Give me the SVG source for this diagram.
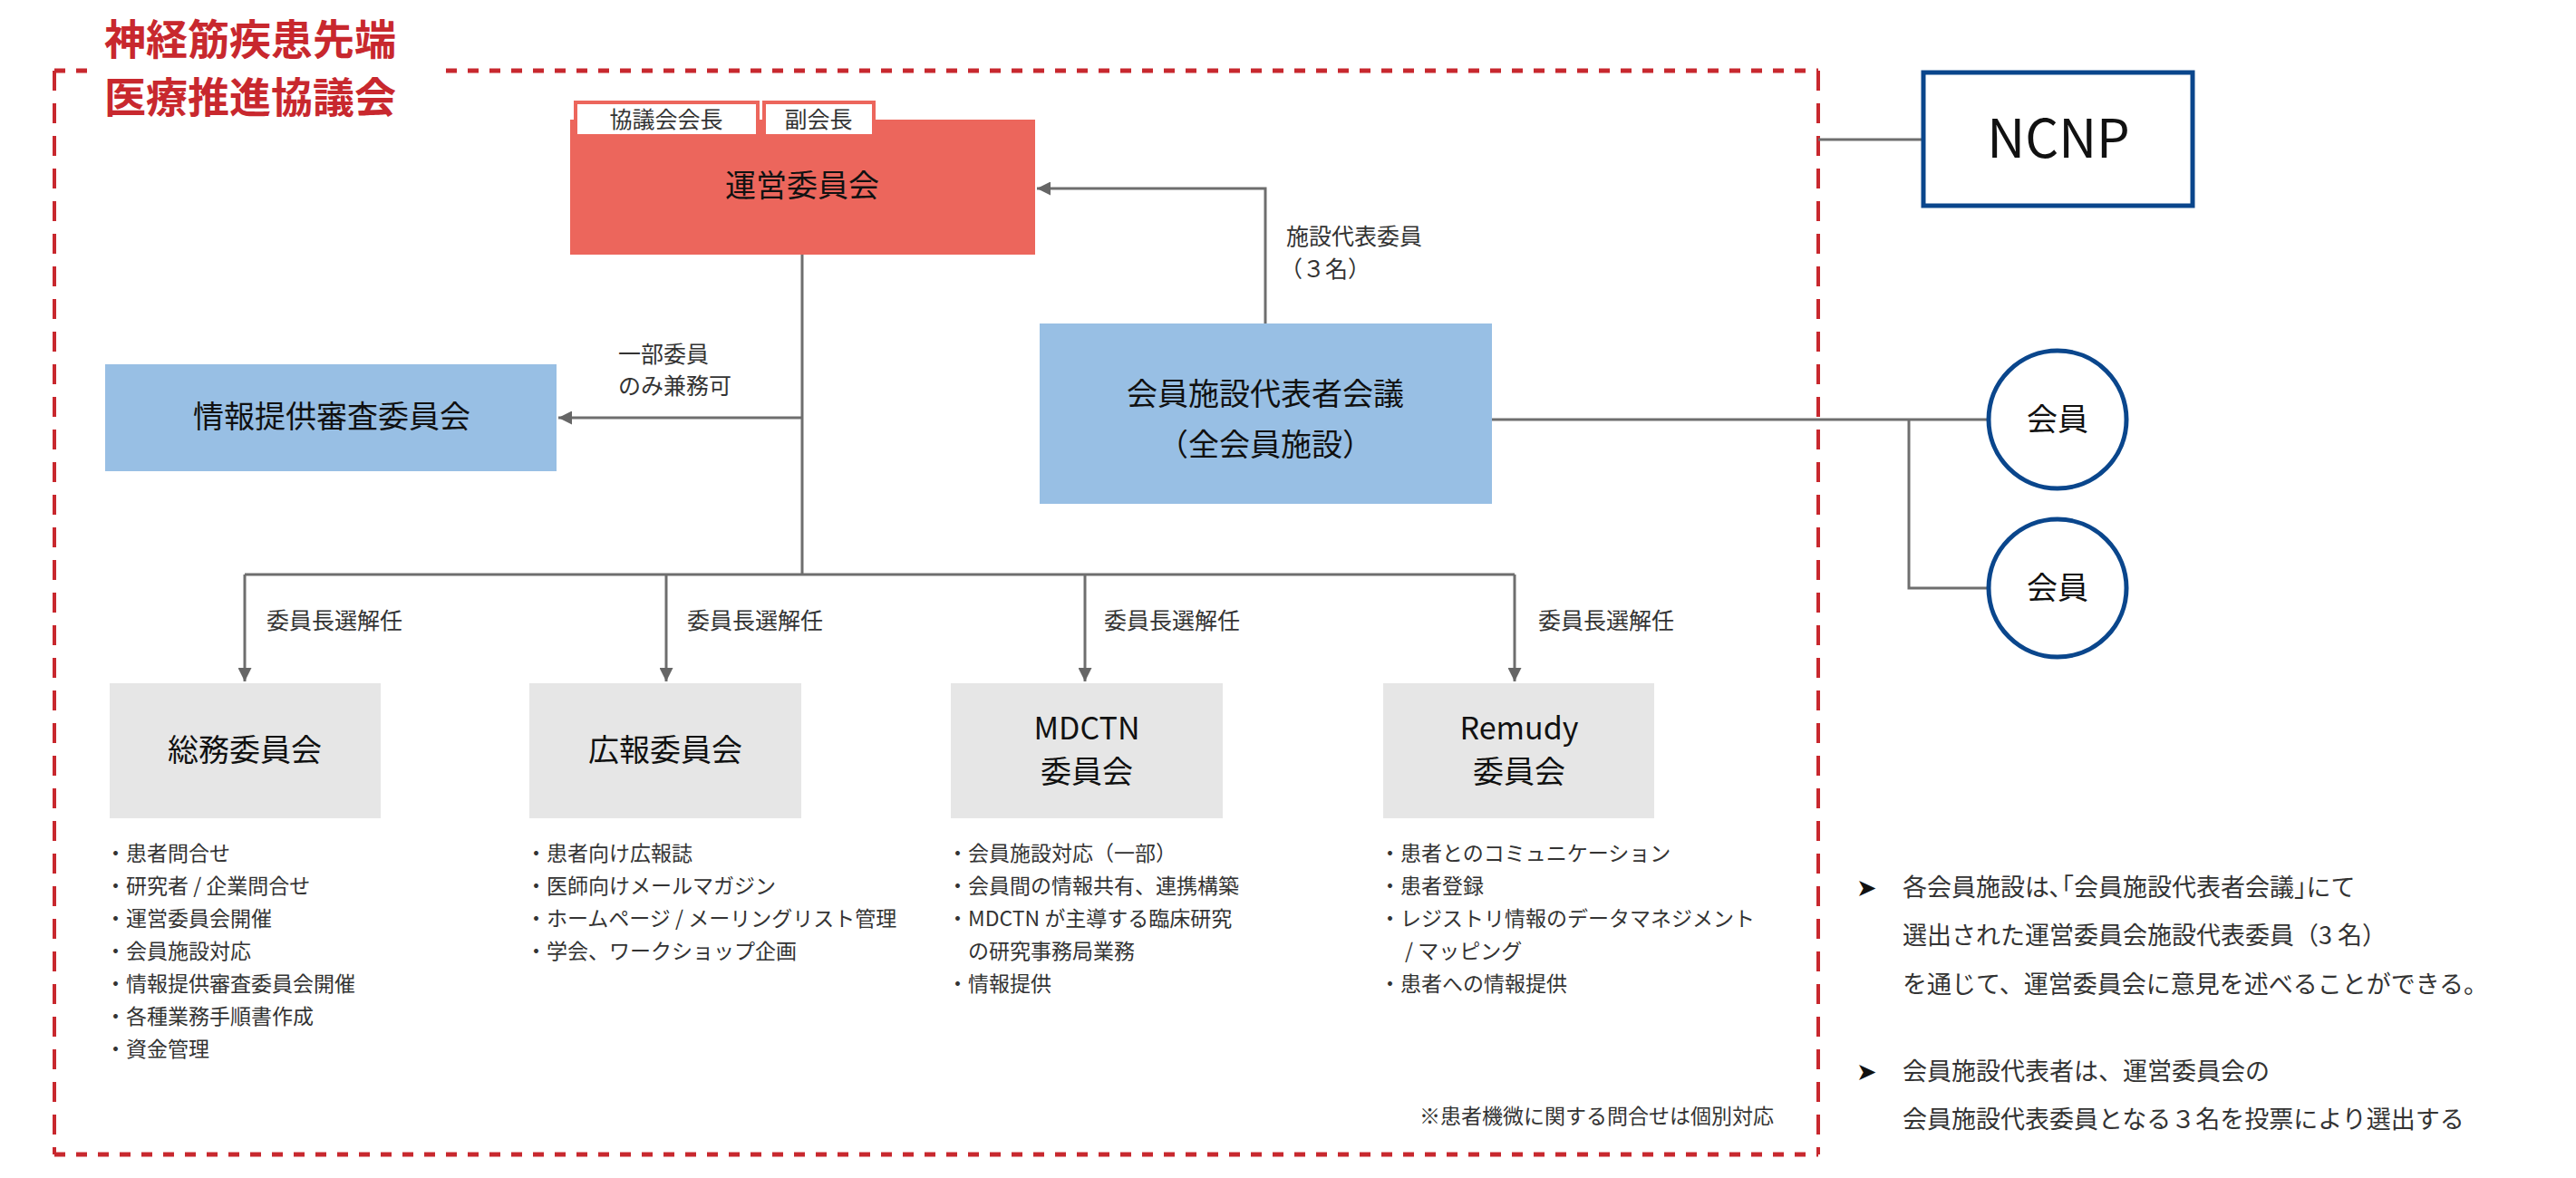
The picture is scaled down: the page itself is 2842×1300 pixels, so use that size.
<svg xmlns="http://www.w3.org/2000/svg" width="2842" height="1300" viewBox="0 0 2842 1300">
<defs>
<marker id="ar" viewBox="0 0 10 10" refX="10" refY="5" markerWidth="5" markerHeight="5" orient="auto-start-reverse"><path d="M0,0 L10,5 L0,10 z" fill="#666"/></marker>
<style>
text{font-family:"Noto Sans CJK JP","Noto Sans",sans-serif;fill:#333}
.ln{stroke:#6e6e6e;stroke-width:3;fill:none}
.nt{font-size:34px;fill:#111;text-anchor:middle}
.lb{font-size:25px}
.bl{font-size:23px}
.no{font-size:27px}
.gb{fill:#e6e6e6}
.bb{fill:#98bfe4}
</style>
</defs>
<g id="frame">
<line x1="60" y1="78" x2="2006" y2="78" stroke="#c8282e" stroke-width="5" stroke-dasharray="12,12"/>
<line x1="60" y1="1274" x2="2006" y2="1274" stroke="#c8282e" stroke-width="5" stroke-dasharray="12,12"/>
<line x1="60" y1="78" x2="60" y2="1274" stroke="#c8282e" stroke-width="4" stroke-dasharray="22,14"/>
<line x1="2006" y1="78" x2="2006" y2="1274" stroke="#c8282e" stroke-width="4" stroke-dasharray="22,14"/>
<rect x="100" y="10" width="380" height="125" fill="#fff"/>
<text x="115" y="60" font-size="46" font-weight="bold" style="fill:#c8282e">神経筋疾患先端</text>
<text x="115" y="124" font-size="46" font-weight="bold" style="fill:#c8282e">医療推進協議会</text>
</g>
<g id="connectors">
<line class="ln" x1="885" y1="281" x2="885" y2="634"/>
<line class="ln" x1="270" y1="634" x2="1671" y2="634"/>
<line class="ln" x1="270" y1="634" x2="270" y2="752" marker-end="url(#ar)"/>
<line class="ln" x1="735" y1="634" x2="735" y2="752" marker-end="url(#ar)"/>
<line class="ln" x1="1197" y1="634" x2="1197" y2="752" marker-end="url(#ar)"/>
<line class="ln" x1="1671" y1="634" x2="1671" y2="752" marker-end="url(#ar)"/>
<line class="ln" x1="885" y1="461" x2="616" y2="461" marker-end="url(#ar)"/>
<polyline class="ln" points="1396,357 1396,208 1144,208" marker-end="url(#ar)"/>
<line class="ln" x1="1646" y1="463" x2="2194" y2="463"/>
<polyline class="ln" points="2106,463 2106,649 2194,649"/>
<line class="ln" x1="2006" y1="154" x2="2121" y2="154"/>
<text class="lb" x="1419" y="270">施設代表委員</text>
<text class="lb" x="1412" y="306">（３名）</text>
<text class="lb" x="682" y="400">一部委員</text>
<text class="lb" x="682" y="435">のみ兼務可</text>
<text class="lb" x="294" y="694">委員長選解任</text>
<text class="lb" x="758" y="694">委員長選解任</text>
<text class="lb" x="1218" y="694">委員長選解任</text>
<text class="lb" x="1697" y="694">委員長選解任</text>
</g>
<g id="unei">
<rect x="629" y="132" width="513" height="149" fill="#ec665c"/>
<rect x="635" y="113" width="201" height="37" fill="#fff" stroke="#ec665c" stroke-width="4"/>
<rect x="843" y="113" width="121" height="37" fill="#fff" stroke="#ec665c" stroke-width="4"/>
<text class="lb" x="735" y="141" text-anchor="middle">協議会会長</text>
<text class="lb" x="903" y="141" text-anchor="middle">副会長</text>
<text class="nt" x="885" y="217">運営委員会</text>
</g>
<g id="joho">
<rect class="bb" x="116" y="402" width="498" height="118"/>
<text class="nt" x="366" y="472">情報提供審査委員会</text>
</g>
<g id="kaiin-kaigi">
<rect class="bb" x="1147" y="357" width="499" height="199"/>
<text class="nt" x="1396" y="447">会員施設代表者会議</text>
<text class="nt" x="1396" y="503">（全会員施設）</text>
</g>
<g id="ncnp">
<rect x="2122" y="80" width="297" height="147" fill="#fff" stroke="#0a468c" stroke-width="5"/>
<text x="2271" y="174" font-size="58" text-anchor="middle" style="fill:#111">NCNP</text>
</g>
<g id="kaiin1">
<circle cx="2270" cy="463" r="76" fill="#fff" stroke="#0a468c" stroke-width="5"/>
<text class="nt" x="2270" y="475">会員</text>
</g>
<g id="kaiin2">
<circle cx="2270" cy="649" r="76" fill="#fff" stroke="#0a468c" stroke-width="5"/>
<text class="nt" x="2270" y="661">会員</text>
</g>
<g id="somu">
<rect class="gb" x="121" y="754" width="299" height="149"/>
<text class="nt" x="270" y="840">総務委員会</text>
<text class="bl" x="116"><tspan x="116" y="950">・患者問合せ</tspan><tspan x="116" y="986">・研究者 / 企業問合せ</tspan><tspan x="116" y="1022">・運営委員会開催</tspan><tspan x="116" y="1058">・会員施設対応</tspan><tspan x="116" y="1094">・情報提供審査委員会開催</tspan><tspan x="116" y="1130">・各種業務手順書作成</tspan><tspan x="116" y="1166">・資金管理</tspan></text>
</g>
<g id="koho">
<rect class="gb" x="584" y="754" width="300" height="149"/>
<text class="nt" x="734" y="840">広報委員会</text>
<text class="bl"><tspan x="580" y="950">・患者向け広報誌</tspan><tspan x="580" y="986">・医師向けメールマガジン</tspan><tspan x="580" y="1022">・ホームページ / メーリングリスト管理</tspan><tspan x="580" y="1058">・学会、ワークショップ企画</tspan></text>
</g>
<g id="mdctn">
<rect class="gb" x="1049" y="754" width="300" height="149"/>
<text class="nt" x="1199" y="816">MDCTN</text>
<text class="nt" x="1199" y="864">委員会</text>
<text class="bl"><tspan x="1045" y="950">・会員施設対応（一部）</tspan><tspan x="1045" y="986">・会員間の情報共有、連携構築</tspan><tspan x="1045" y="1022">・MDCTN が主導する臨床研究</tspan><tspan x="1068" y="1058">の研究事務局業務</tspan><tspan x="1045" y="1094">・情報提供</tspan></text>
</g>
<g id="remudy">
<rect class="gb" x="1526" y="754" width="299" height="149"/>
<text class="nt" x="1676" y="816">Remudy</text>
<text class="nt" x="1676" y="864">委員会</text>
<text class="bl"><tspan x="1522" y="950">・患者とのコミュニケーション</tspan><tspan x="1522" y="986">・患者登録</tspan><tspan x="1522" y="1022">・レジストリ情報のデータマネジメント</tspan><tspan x="1550" y="1058">/ マッピング</tspan><tspan x="1522" y="1094">・患者への情報提供</tspan></text>
</g>
<g id="notes">
<text class="bl" x="1957" y="1240" text-anchor="end">※患者機微に関する問合せは個別対応</text>
<text class="no" x="2048" y="989" style="fill:#111">➤</text>
<text class="no"><tspan x="2099" y="989">各会員施設は､｢会員施設代表者会議｣にて</tspan><tspan x="2099" y="1042">選出された運営委員会施設代表委員（3 名）</tspan><tspan x="2099" y="1096">を通じて、運営委員会に意見を述べることができる。</tspan></text>
<text class="no" x="2048" y="1192" style="fill:#111">➤</text>
<text class="no"><tspan x="2099" y="1192">会員施設代表者は、運営委員会の</tspan><tspan x="2099" y="1245">会員施設代表委員となる３名を投票により選出する</tspan></text>
</g>
</svg>
